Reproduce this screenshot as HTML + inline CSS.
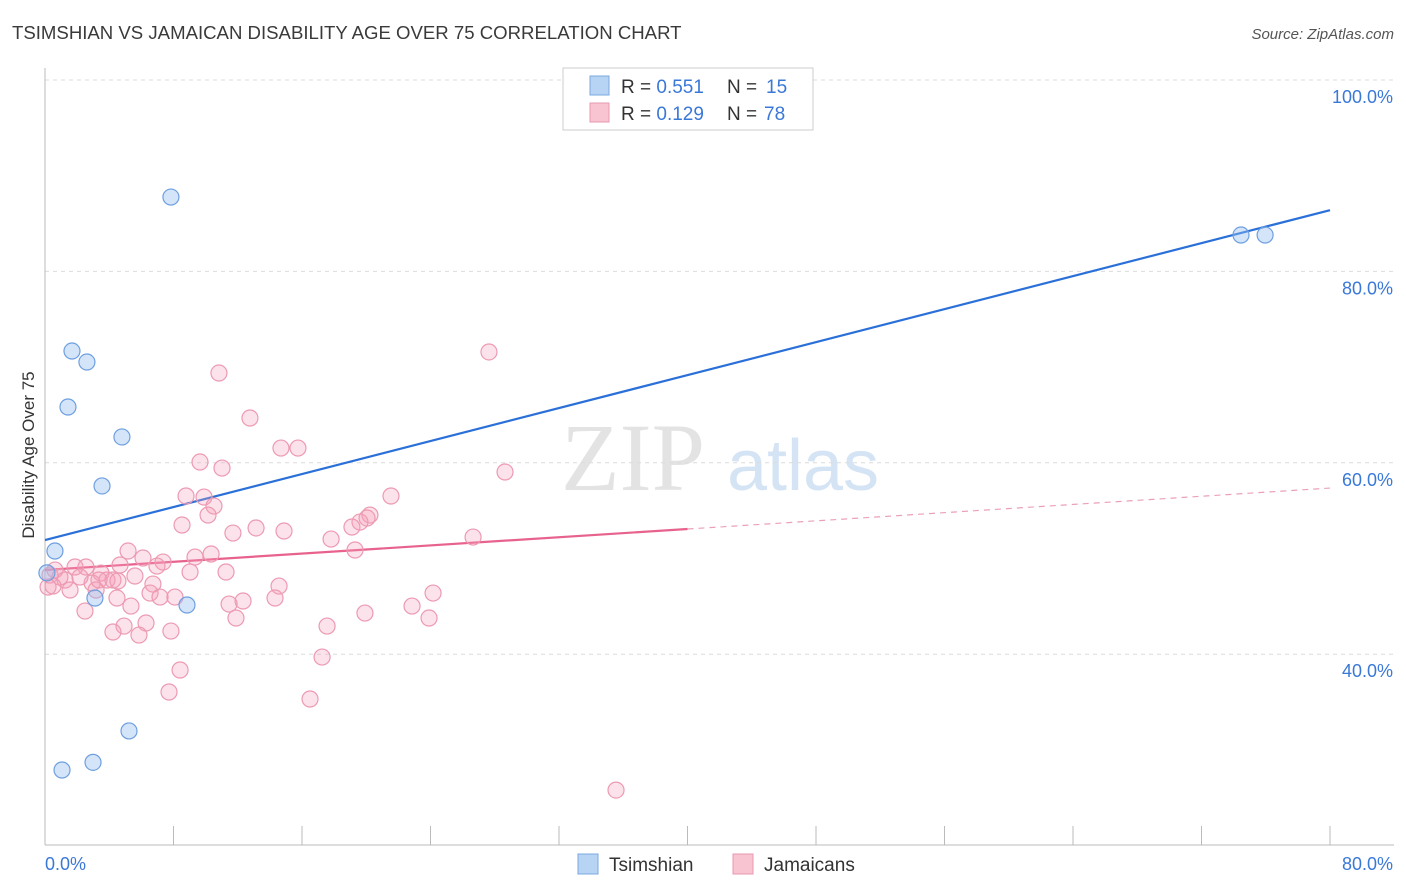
<!DOCTYPE html>
<html><head><meta charset="utf-8"><style>
body{margin:0;background:#fff;font-family:"Liberation Sans",sans-serif;}
svg{display:block}
</style></head><body>
<svg id="chart" width="1406" height="892" xmlns="http://www.w3.org/2000/svg">
<text x="12" y="39" font-size="18.6" fill="#3a3a3a">TSIMSHIAN VS JAMAICAN DISABILITY AGE OVER 75 CORRELATION CHART</text>
<text x="1394" y="39" font-size="15" fill="#555" font-style="italic" text-anchor="end">Source: ZipAtlas.com</text>
<g><text x="633" y="490" font-size="96" fill="#e3e3e3" font-family="Liberation Serif,serif" text-anchor="middle">ZIP</text><text x="803" y="490" font-size="72" fill="#d5e4f5" text-anchor="middle">atlas</text></g>
<g id="grid"></g><g id="axes"></g><g id="lines"></g><g id="pts"></g>
<text transform="translate(34,455) rotate(-90)" font-size="17" fill="#333" text-anchor="middle">Disability Age Over 75</text>
<g>
<rect x="563" y="68" width="250" height="62" fill="#fff" stroke="#ccc"/>
<rect x="590" y="76" width="19" height="19" fill="#b8d4f5" stroke="#7aa8e0"/>
<rect x="590" y="103" width="19" height="19" fill="#f8c4d2" stroke="#ea98b0"/>
<text x="621" y="93" font-size="19" fill="#333">R = <tspan fill="#3a78d8">0.551</tspan></text>
<text x="727" y="93" font-size="19" fill="#333">N = </text><text x="766" y="93" font-size="19" fill="#3a78d8">15</text>
<text x="621" y="120" font-size="19" fill="#333">R = <tspan fill="#3a78d8">0.129</tspan></text>
<text x="727" y="120" font-size="19" fill="#333">N = </text><text x="764" y="120" font-size="19" fill="#3a78d8">78</text>
</g>
<g>
<rect x="578" y="854" width="20" height="20" fill="#b8d4f5" stroke="#7aa8e0"/>
<text x="609" y="871" font-size="19" fill="#333">Tsimshian</text>
<rect x="733" y="854" width="20" height="20" fill="#f8c4d2" stroke="#ea98b0"/>
<text x="764" y="871" font-size="19" fill="#333">Jamaicans</text>
</g>
</svg>
<script>
const blueX=[7.84,1.68,2.61,1.43,4.79,3.55,0.62,3.11,8.84,5.23,1.06,2.99,74.46,75.96,0.12];
const blueY=[87.77,71.68,70.53,65.83,62.70,57.58,50.78,45.87,45.14,31.98,27.9,28.7,83.8,83.8,48.5];
const pinkX=[27.64,10.83,12.76,14.69,15.75,9.65,11.02,28.64,8.78,9.90,21.54,10.52,10.15,20.23,20.05,19.61,8.53,19.11,13.14,14.88,11.70,26.65,17.81,5.17,19.30,10.34,9.34,6.10,7.35,6.97,4.67,2.55,1.87,0.62,3.49,5.60,9.03,11.27,0.31,0.93,1.25,3.86,4.23,4.54,2.93,14.57,6.72,6.54,1.56,24.16,8.09,12.33,14.32,11.46,5.35,22.85,2.49,19.92,11.89,23.91,6.29,4.92,17.56,4.23,7.84,5.85,17.25,8.41,7.72,16.50,35.55,0.19,0.50,2.18,3.18,7.16,4.48,3.36];
const pinkY=[71.58,69.38,64.68,61.54,61.54,60.08,59.45,59.04,56.53,56.42,56.53,55.48,54.54,54.54,54.23,53.81,53.50,53.29,53.19,52.87,52.66,52.24,52.03,50.78,50.89,50.47,50.15,50.05,49.63,49.21,49.32,49.11,49.11,48.79,48.48,48.17,48.59,48.59,48.27,48.06,47.75,47.75,47.75,47.65,47.44,47.12,47.33,46.39,46.71,46.39,45.97,45.56,45.87,45.24,45.03,45.03,44.51,44.30,43.78,43.78,43.26,42.94,42.94,42.32,42.42,42.0,39.7,38.35,36.05,35.32,25.8,47.02,47.12,48.06,46.71,45.97,45.87,47.75];
const blueFit=[51.93,86.4];
const pinkFit=[48.8,57.36];
const pinkSolidEnd=40;
const yTicks=[100,80,60,40];
const yTickLabels=["100.0%","80.0%","60.0%","40.0%"];
const xLabels=["0.0%","80.0%"];
const NS="http://www.w3.org/2000/svg";
const sx=v=>45+v*(1285/80);
const sy=v=>80+(100-v)*9.57;
function mk(tag,attrs,parent){const e=document.createElementNS(NS,tag);for(const k in attrs)e.setAttribute(k,attrs[k]);parent.appendChild(e);return e;}
const grid=document.getElementById('grid'),axes=document.getElementById('axes'),lines=document.getElementById('lines'),pts=document.getElementById('pts');
yTicks.forEach((t,i)=>{
 const l=mk('line',{x1:45,x2:1394,y1:sy(t),y2:sy(t),stroke:'#dcdcdc','stroke-dasharray':'4,4'},grid);
 
 
 const tx=mk('text',{x:1393,y:sy(t)+23,'font-size':18,fill:'#3a78d8','text-anchor':'end'},grid);
 tx.textContent=yTickLabels[i];
 
 
});
const ya=mk('line',{x1:45,x2:45,y1:68,y2:845,stroke:'#bbb'},axes);


const xa=mk('line',{x1:45,x2:1394,y1:845,y2:845,stroke:'#bbb'},axes);


for(let i=0;i<=10;i++){
 const t=mk('line',{x1:sx(i*8),x2:sx(i*8),y1:826,y2:845,stroke:'#bbb'},axes);
 
 
}
[[0,'start',xLabels[0]],[80,'end',xLabels[1]]].forEach(a=>{
 const x=a[0]===0?45:1393;
 const t=mk('text',{x:x,y:870,'font-size':18,fill:'#3a78d8','text-anchor':a[1]},axes);
 t.textContent=a[2];
 
 
});
const fv=(f,x)=>f[0]+(f[1]-f[0])*x/80;
pinkX.forEach((x,i)=>{
 const c=mk('circle',{cx:sx(x),cy:sy(pinkY[i]),r:8,fill:'rgba(244,160,185,0.3)',stroke:'#ec9ab2','stroke-width':1.2},pts);
 
 
});
blueX.forEach((x,i)=>{
 const c=mk('circle',{cx:sx(x),cy:sy(blueY[i]),r:8,fill:'rgba(150,190,240,0.4)',stroke:'#6d9fe0','stroke-width':1.2},pts);
 
 
});
const bl=mk('line',{x1:sx(0),y1:sy(fv(blueFit,0)),x2:sx(80),y2:sy(fv(blueFit,80)),stroke:'#2a70d8','stroke-width':2.2},lines);


const pl=mk('line',{x1:sx(0),y1:sy(fv(pinkFit,0)),x2:sx(pinkSolidEnd),y2:sy(fv(pinkFit,pinkSolidEnd)),stroke:'#e8628e','stroke-width':2.2},lines);


const pd=mk('line',{x1:sx(pinkSolidEnd),y1:sy(fv(pinkFit,pinkSolidEnd)),x2:sx(80),y2:sy(fv(pinkFit,80)),stroke:'#eba0b8','stroke-width':1.2,'stroke-dasharray':'6,5'},lines);


</script>
</body></html>
